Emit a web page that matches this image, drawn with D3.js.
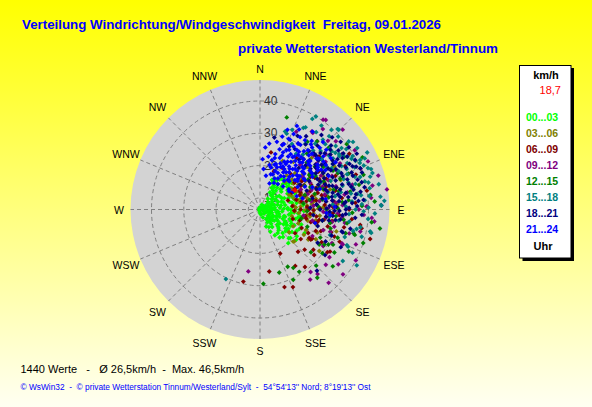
<!DOCTYPE html>
<html>
<head>
<meta charset="utf-8">
<script src="https://cdn.jsdelivr.net/npm/d3@7.9.0/dist/d3.min.js"></script>
<style>
  body { margin: 0; }
  svg { display: block; }
</style>
</head>
<body>
<svg id="chart" width="592" height="407"></svg>
<script>
// compass + rings
const directions = ['N','NNE','NE','ENE','E','ESE','SE','SSE','S','SSW','SW','WSW','W','WNW','NW','NNW'];
const speedTicks = [10, 20, 30, 40];
const speedMin = 6.4;
const speedMax = 46.5;
const hourBins = ['00...03','03...06','06...09','09...12','12...15','15...18','18...21','21...24'];

const titleText = 'Verteilung Windrichtung/Windgeschwindigkeit  Freitag, 09.01.2026';
const subtitleText = 'private Wetterstation Westerland/Tinnum';
const statsText = '1440 Werte   -   Ø 26,5km/h  -  Max. 46,5km/h';
const footerText = '© WsWin32  -  © private Wetterstation Tinnum/Westerland/Sylt  -  54°54\'13\'\' Nord; 8°19\'13\'\' Ost';
const currentSpeed = '18,7';
const currentWind = [61, 18.7];

// [direction deg, speed km/h]
const winds0003 = [[90,6.5],[75,7],[100,7.2],[60,7.5],[120,7.8],[45,8],[135,8.2],[85,8.4],[110,8.6],[70,9],[95,9.2],[55,9.5],[125,9.6],[140,9.8],[80,10],[105,10.2],[65,10.5],[115,10.8],[90,11],[50,11.2],[130,11.4],[100,11.6],[75,12],[60,12.2],[120,12.4],[85,12.6],[110,12.8],[40,13],[145,13],[95,13.3],[70,13.5],[55,13.7],[125,13.9],[105,14.1],[80,14.3],[135,14.5],[65,14.7],[115,14.9],[90,15.1],[45,15.3],[100,15.5],[150,15.6],[75,15.8],[120,16],[60,16.2],[85,16.4],[110,16.6],[130,16.8],[95,17],[70,17.2],[50,17.4],[140,17.5],[105,17.7],[80,17.9],[115,18.1],[65,18.3],[125,18.5],[90,18.7],[100,19],[35,16],[30,15],[25,15.5],[28,14],[38,12],[155,14],[160,12],[150,11],[145,17],[135,19],[120,19.5],[110,20],[75,19.5],[60,19],[48,18.5],[55,16.8],[42,17],[33,17.5],[62,14],[72,11],[82,8],[98,8.8],[118,9.5],[128,12],[138,15],[142,12],[88,13.8],[78,16.5],[68,15.9],[58,10.8],[108,16],[118,17.2],[128,18],[92,20],[84,19.8],[102,18.4],[112,14],[122,15],[132,10.5],[66,8.5],[52,13],[47,9.8],[36,10.5],[160,9],[170,8],[20,8],[10,7],[350,7],[200,6.8],[250,6.6],[300,6.7],[180,7.5],[30,12.5],[26,17],[22,16.3],[140,20],[130,21],[118,22],[126,20.5],[126.6,16.2],[114,17],[133,19.3],[127,17],
  [40,14],[44,12],[50,15],[56,12],[62,17],[67,12.5],[73,14],[77,9.5],[83,11],[87,15],[93,10],[97,16],[103,12.5],[107,9.8],[113,11.8],[117,15.5],[123,13],[127,10.5],[133,14],[137,11],[143,15.5],[147,10],[153,12.5],[34,13.5],[46,16],[52,17.8],[64,16.8],[74,17.5],[86,17.3],[96,18.3],[106,19],[116,20],[124,17],[136,16.5],[91,16],[79,13],[69,10],[59,8.5],[49,11.5],[101,9.5],[111,12],[121,11],[131,13.5],[141,11],[86,10.5],[96,12],[106,14.5],
  [30,17],[35,18],[40,18.5],[25,16.5],[38,15],[45,17.8],[32,14.5],[28,16],[43,16.2],[50,19.2],[57,18.2]];
const winds0306 = [[53,21.8],[35,24.4],[73,20.3],[81,25.2],[62,28.5],[98,22],[76,31.9],[117,17.9],[133,20.9],[120,22.1],[114,22],[128,17.8],[125,28.8],[134,20.7],[60,18],[65,20],[70,22],[75,24],[80,19],[85,21],[90,23],[95,18.5],[100,20],[105,24.5],[110,19],[68,26],[72,17.5],[78,27.5],[88,26],[92,28],[58,23],[48,26],[44,22],[40,27],[55,30],[63,16.5],[83,16.8],[93,17.2],[103,21.5],[108,27],[112,25.5],[118,26],[86,30.5],[66,24],[52,19.5],[74,29],[96,25],[102,16.5],[82,23],[70,33],[60,33],[50,31],[45,29],[38,19.8],[42,18],[30,21],[25,23],[98,30],[106,31],[122,24],
  [47,20],[51,23],[54,25.5],[57,20.5],[59,26],[62,22],[64,19],[67,23.5],[69,20],[71,25],[73,27],[77,21.5],[79,24],[84,22.5],[86,19],[89,24.5],[91,20.5],[94,23],[97,21],[101,24],[56,18],[66,17],[76,18.5],[87,17.5]];
const winds0609 = [[193,29.3],[171.5,25.8],[162.5,31.6],[157,32.5],[155.4,21.4],[127,27.1],[130,28.3],[122.4,31.1],[120,24],[111,24.9],[109.6,26.4],[107.7,29.5],[110,30.9],[100.5,38.4],[105,41.7],[120.7,24.7],[104,22.6],[102.4,24.6],[99,29],[105.3,19.2],[10.9,24.4],[65,20],[70,23],[75,18],[80,21],[85,24],[90,19],[95,22],[100,25],[60,26],[68,28],[78,27],[88,29],[92,17],[98,20.5],[84,16.5],[72,15.5],[62,17.5],[56,22],[50,24],[45,27],[40,21],[76,30.5],[82,32],[94,31],[104,28],[114,20.5],[118,28],[124,19.5],[112,33],[96,35],[86,36],[66,32],[58,29],[52,34],[48,31],[86,26.5],[74,25],[106,17],[116,23],[126,22],[132,25],[138,24],[142,29],[148,27],[98.8,37.8],[121,31.7],[119,24.9],[28,21],[20,19],[35,26],[63,36],[70,38],[80,40],[90,34],[102,33],[58,39],
  [52,20],[54,23],[57,25],[59,19],[61,22],[63,27],[64,24],[67,20],[69,25],[71,28],[73,21],[76,23],[77,26],[79,19.5],[81,24],[83,27],[87,21],[89,25],[91,23],[93,27],[97,24],[99,26.5],[101,21],[103,23.5],[57,28],[65,29],[74,31],[84,29.5],[93,29],[60,21],[70,19.5],[80,23],[90,21.5]];
const winds0912 = [[190.7,25.9],[141,31.3],[138.3,33.2],[136.9,37.5],[124.5,32.5],[116.9,24.6],[113,34.2],[94.3,41.1],[88.4,39.4],[81,46.2],[36.3,40.8],[34.6,35.2],[44.7,36.3],[19.2,27.7],[45,30],[50,33],[55,28],[60,35],[65,31],[70,27],[75,36],[80,33],[85,30],[90,37],[95,32],[100,29],[105,35],[110,38],[115,31],[120,29],[125,36],[130,33],[48,38],[58,41],[68,40],[78,42],[88,44],[62,24],[72,22],[82,25],[92,26],[102,23],[40,34],[42,25],[52,26],[108,27],[118,40],[128,39],[35.1,40.4],[33.6,35.4],[112.5,33.9],[107.5,29.2],[144.4,33.1],[93,38.6],[88.5,39.7],[102.4,38.2],[66,43],[74,44.5],[84,41],[96,42],[56,37],[46,42],[38,38],[30,30],[25,33],[98,20],[86,23],[76,20],[64,20.5],
  [51,29],[54,31.5],[57,26],[61,28],[63,33],[67,29.5],[69,23.5],[73,31],[77,27],[79,34],[83,29],[87,32],[89,27.5],[93,30.5],[97,27],[99,33],[103,30],[53,23],[71,25.5],[81,22.5]];
const winds1215 = [[16.2,36.1],[177.4,29.4],[163,26.8],[154.2,26.1],[150.3,27.2],[147.8,29.2],[154.7,30.5],[120.6,27.7],[118.6,29.1],[117.1,30.2],[115.7,31.5],[115.3,36.8],[105.5,33.9],[105,36.8],[96.5,41.2],[39.9,33.9],[78.8,34.9],[104.3,36.3],[99,33.7],[82.5,40.9],[71.5,40.2],[45,27],[50,31],[55,25],[60,29],[65,33],[70,26],[75,30],[80,28],[85,32],[90,27],[95,30],[100,26],[105,29],[110,32],[115,27],[120,33],[125,30],[130,27],[135,31],[58,37],[68,36],[88,38],[48,35],[40,29],[35,32],[62,22],[72,21],[82,20],[92,21],[102,19.5],[110,22],[92,35],[76,38],[86,42],[63,42],[53,40],[140,34],[128,35],[108,40],[99,44],
  [52,28],[56,30],[59,26.5],[62,32],[66,28],[69,33],[72,27],[74,24],[77,31.5],[81,26],[84,34],[87,24.5],[89,30.5],[94,28],[97,32.5],[101,28.5],[58,24],[66,23.5],[79,22]];
const winds1518 = [[206.1,30.4],[121.9,36.6],[112.9,36],[101.9,41.6],[88.2,44],[101.4,36.9],[30,38.8],[29,35.5],[36.2,38.6],[41.9,39.5],[44,41],[19.4,31.3],[43.3,37.6],[34.6,31.2],[87.9,43.9],[17.8,31.8],[28,35],[44.6,41.1],[52.5,41],[57.7,42],[63.7,41],[73.4,42],[83.9,43.9],[101.3,41.2],[91,38.5],[97.7,34.3],[112.3,35.5],[51,35],[53,35.6],[55,36.3],[57,37.2],[59,38],[61,38.8],[63,39.6],[65,40.5],[67,41.3],[69,42.2],[70,43],[40,33],[45,35],[50,37],[55,34],[60,32],[65,36],[70,34],[75,37],[80,35],[85,39],[90,36],[95,40],[100,38],[105,39],[48,30],[53,29],[58,31],[68,30],[78,32],[88,33],[98,31],[108,34],[38,28],[33,27],[26,29],[22,33],[72,39],[82,38],[92,42],[76,41],[86,45],[62,44],[54,42],[47,39.5],[36,36],[31,40],[66,27],[76,28],[86,29],[96,28],[115,38],[120,41],[80,30],[74,33],[93,34],[103,36],[62,35],[52,33.5],[42,31],[57,26],[67,24],[110,29.5],
  [42,35.5],[46,32.5],[49,35],[51,31],[53,38],[56,36],[58,33],[60,39.5],[62,37],[64,33.5],[66,38.5],[68,35.5],[71,37.5],[73,35],[75,40],[77,36],[79,41],[81,37],[83,40.5],[85,35],[87,38],[89,40],[55,39],[64,42.5],[72,43],[78,44]];
const winds1821 = [[11.3,29.1],[32.2,33.2],[39.5,36.3],[24.9,27.9],[137.1,32.3],[105.4,33],[49.6,35],[53,36.8],[58.7,38],[62.5,39.6],[67.6,40],[84.7,38.6],[105,32.6],[40,30],[42,33],[45,28],[47,32],[50,30],[52,34],[55,31],[57,35],[60,29],[62,33],[64,36],[66,31],[68,34],[70,37],[72,30],[74,35],[76,32],[78,36],[80,29],[82,34],[84,31],[86,35],[88,30],[90,33],[92,28],[94,32],[96,27],[98,30],[100,26],[55,26],[60,24],[65,27],[70,25],[75,28],[80,26],[85,24],[90,25],[45,38],[50,39],[55,40],[60,41],[65,38],[70,40],[75,39],[80,38],[85,37],[35,31],[30,28],[27,32],[38,26],[43,24],[48,22],[58,21],[68,22],[78,23],[88,22],[95,36],[102,35],[110,30],[115,34],[120,27],[63,30],[73,33],[83,27],[93,38],[53,28],[48,36],[58,33],[69,28],[79,31],[89,27],[56,37.5],[66,39],[76,35.5],[86,32.5],[61,31.5],[71,29],[81,36.5],[91,31],[46,30.5],[51,26.5],[96,23],[106,25],[116,29],[125,31],
  [41,27],[44,30.5],[46,26],[49,33],[51,28.5],[54,30],[56,33.5],[57,27],[59,31],[61,34.5],[62,26.5],[64,28.5],[66,34],[67,26],[69,31.5],[71,35],[73,27.5],[74,31],[77,29.5],[79,33.5],[81,31.5],[83,29],[85,33],[87,28],[89,34],[91,29.5],[93,33],[95,29],[97,31.5],[99,28],[58,36.5],[63,37.5],[68,37],[73,38],[78,39.5],[83,36],[88,36.5]];
const winds2124 = [[23.8,34.7],[4.9,25.7],[15.4,24.2],[22.2,24.4],[31.6,28.1],[13.6,22.1],[14.6,19.8],[21.4,19.2],[19.3,21.3],[29.6,22.6],[31.7,18.6],[27.6,15.7],[54.8,17.3],[32,25.5],[23.4,29.9],[94.5,28.2],[93,27],[103.8,24],[18,26],[20,28],[22,30],[24,32],[26,27],[28,25],[30,30],[33,32],[35,27],[37,29],[39,24],[41,27],[43,30],[45,25],[47,22],[49,27],[51,24],[53,21],[55,26],[57,23],[59,20],[63,22],[67,24],[71,26],[75,20],[81,27],[16,23],[18,21],[20,18],[22,20.5],[24,22],[26,19],[28,21.5],[30,17.5],[32,20],[34,22.5],[36,19],[38,21],[40,18],[42,20],[44,23],[46,19],[48,24],[50,20.5],[25,17],[17,17.8],[12,20.5],[9,23],[8,27],[14,28],[17,30],[19,32.5],[26,34],[29,32],[34,35.5],[37,33],[40,31.5],[44,33],[48,30],[52,29],[56,31],[64,30],[88,29.5],[30,23.5],[36,25],[42,26],[46,28],[50,32],[54,33.5],[58,34],[62,18],[70,18.5],[58,17],[45,16.5],[35,16],[20,15],[10,17],[5,19],[3,22],
  [27,23],[29,26],[31,21],[33,24],[34,28],[36,22],[38,27],[39,30],[41,23],[42,29],[44,21],[45,27.5],[47,25],[49,30.5],[50,22.5],[52,26],[53,31],[55,23],[56,28],[58,25.5],[59,30],[38,32],[43,35],[48,34],[26,21],[32,30],[22,25.5],[19,27.5],
  [35,20.5],[39,22.5],[43,19],[47,27],[51,21.5],[54,28.5],[57,29],[40,25.5],[33,26],[28,28.5],[24,26.5],[21,23.5]];

const windsByBin = [winds0003, winds0306, winds0609, winds0912, winds1215, winds1518, winds1821, winds2124];

const svg = d3.select('#chart');
const cx = 260, cy = 209.5, R = 129.5;

// background
const grad = svg.append('defs').append('linearGradient')
  .attr('id', 'bg').attr('x1', 0).attr('y1', 0).attr('x2', 0).attr('y2', 1);
grad.append('stop').attr('offset', '0%').attr('stop-color', '#ffff00');
grad.append('stop').attr('offset', '100%').attr('stop-color', '#fffff2');
svg.append('rect').attr('width', 592).attr('height', 407).attr('fill', 'url(#bg)');

const color = d3.scaleOrdinal()
  .domain(hourBins)
  .range(['#00ff00','#808000','#800000','#800080','#008000','#008080','#000080','#0000ff']);

const r = d3.scaleLinear().domain([speedMin, speedMax]).range([0, R]).clamp(true);
const rad = (deg) => deg * Math.PI / 180;
const px = (dir, v) => cx + r(v) * Math.sin(rad(dir));
const py = (dir, v) => cy - r(v) * Math.cos(rad(dir));

// titles
svg.append('text')
  .attr('x', 22).attr('y', 29)
  .attr('textLength', 419).attr('lengthAdjust', 'spacingAndGlyphs')
  .style('white-space', 'pre')
  .attr('font-family', 'Liberation Sans, Arial, sans-serif')
  .attr('font-weight', 'bold').attr('font-size', 13)
  .attr('fill', '#0000ff')
  .text(titleText);

svg.append('text')
  .attr('x', 238).attr('y', 53)
  .attr('textLength', 260).attr('lengthAdjust', 'spacingAndGlyphs')
  .attr('font-family', 'Liberation Sans, Arial, sans-serif')
  .attr('font-weight', 'bold').attr('font-size', 13)
  .attr('fill', '#0000ff')
  .text(subtitleText);

// polar disk
const plot = svg.append('g');
plot.append('circle').attr('cx', cx).attr('cy', cy).attr('r', R).attr('fill', '#d3d3d3');

plot.selectAll('circle.ring')
  .data(speedTicks)
  .join('circle')
  .attr('class', 'ring')
  .attr('cx', cx).attr('cy', cy)
  .attr('r', (d) => r(d))
  .attr('fill', 'none')
  .attr('stroke', '#808080')
  .attr('stroke-dasharray', '4,3');

plot.selectAll('line.spoke')
  .data(directions)
  .join('line')
  .attr('class', 'spoke')
  .attr('x1', cx).attr('y1', cy)
  .attr('x2', (_, i) => cx + R * Math.sin(rad(i * 22.5)))
  .attr('y2', (_, i) => cy - R * Math.cos(rad(i * 22.5)))
  .attr('stroke', '#808080')
  .attr('stroke-dasharray', '4,3');

plot.selectAll('text.tick')
  .data(speedTicks)
  .join('text')
  .attr('class', 'tick')
  .attr('x', cx + 4)
  .attr('y', (d) => cy - r(d))
  .attr('dominant-baseline', 'central')
  .attr('font-family', 'Liberation Sans, Arial, sans-serif')
  .attr('font-size', 12)
  .attr('fill', '#333')
  .text((d) => d);

svg.selectAll('text.dir')
  .data(directions)
  .join('text')
  .attr('class', 'dir')
  .attr('x', (_, i) => cx + (i % 4 === 0 ? 141 : 145) * Math.sin(rad(i * 22.5)))
  .attr('y', (_, i) => cy - (i % 4 === 0 ? 141 : 145) * Math.cos(rad(i * 22.5)))
  .attr('text-anchor', 'middle')
  .attr('dominant-baseline', 'central')
  .attr('font-family', 'Liberation Sans, Arial, sans-serif')
  .attr('font-size', 10.5)
  .attr('fill', '#000')
  .text((d) => d);

// points, in time order
const diamond = d3.symbol().type(d3.symbolDiamond2).size(15);
windsByBin.forEach((pts, i) => {
  plot.append('g')
    .selectAll('path')
    .data(pts)
    .join('path')
    .attr('d', diamond)
    .attr('transform', (d) => `translate(${px(d[0], d[1])},${py(d[0], d[1])})`)
    .attr('fill', color(hourBins[i]));
});

plot.append('path')
  .attr('d', d3.symbol().type(d3.symbolDiamond2).size(20))
  .attr('transform', `translate(${px(currentWind[0], currentWind[1])},${py(currentWind[0], currentWind[1])})`)
  .attr('fill', '#ff0000');

// legend box
const legend = svg.append('g');
legend.append('rect').attr('x', 522.5).attr('y', 68).attr('width', 51.5).attr('height', 193).attr('fill', '#000');
legend.append('rect').attr('x', 519.5).attr('y', 65.5).attr('width', 51.5).attr('height', 192.5)
  .attr('fill', '#fff').attr('stroke', '#000');

legend.append('text')
  .attr('x', 546).attr('y', 79).attr('text-anchor', 'middle')
  .attr('font-family', 'Liberation Sans, Arial, sans-serif')
  .attr('font-weight', 'bold').attr('font-size', 11).attr('fill', '#000')
  .text('km/h');

legend.append('text')
  .attr('x', 561).attr('y', 94).attr('text-anchor', 'end')
  .attr('font-family', 'Liberation Sans, Arial, sans-serif')
  .attr('font-size', 11).attr('fill', '#ff0000')
  .text(currentSpeed);

legend.selectAll('text.bin')
  .data(hourBins)
  .join('text')
  .attr('class', 'bin')
  .attr('x', 526)
  .attr('y', (_, i) => 121 + i * 16.05)
  .attr('font-family', 'Liberation Sans, Arial, sans-serif')
  .attr('font-weight', 'bold').attr('font-size', 10.5)
  .attr('fill', (d) => color(d))
  .text((d) => d);

legend.append('text')
  .attr('x', 543).attr('y', 249.5).attr('text-anchor', 'middle')
  .attr('font-family', 'Liberation Sans, Arial, sans-serif')
  .attr('font-weight', 'bold').attr('font-size', 11).attr('fill', '#000')
  .text('Uhr');

// bottom lines
svg.append('text')
  .attr('x', 20.5).attr('y', 373)
  .style('white-space', 'pre')
  .attr('font-family', 'Liberation Sans, Arial, sans-serif')
  .attr('font-size', 11).attr('fill', '#000')
  .text(statsText);

svg.append('text')
  .attr('x', 20.5).attr('y', 390)
  .attr('textLength', 350).attr('lengthAdjust', 'spacingAndGlyphs')
  .style('white-space', 'pre')
  .attr('font-family', 'Liberation Sans, Arial, sans-serif')
  .attr('font-size', 8.5).attr('fill', '#0000ff')
  .text(footerText);
</script>
</body>
</html>
